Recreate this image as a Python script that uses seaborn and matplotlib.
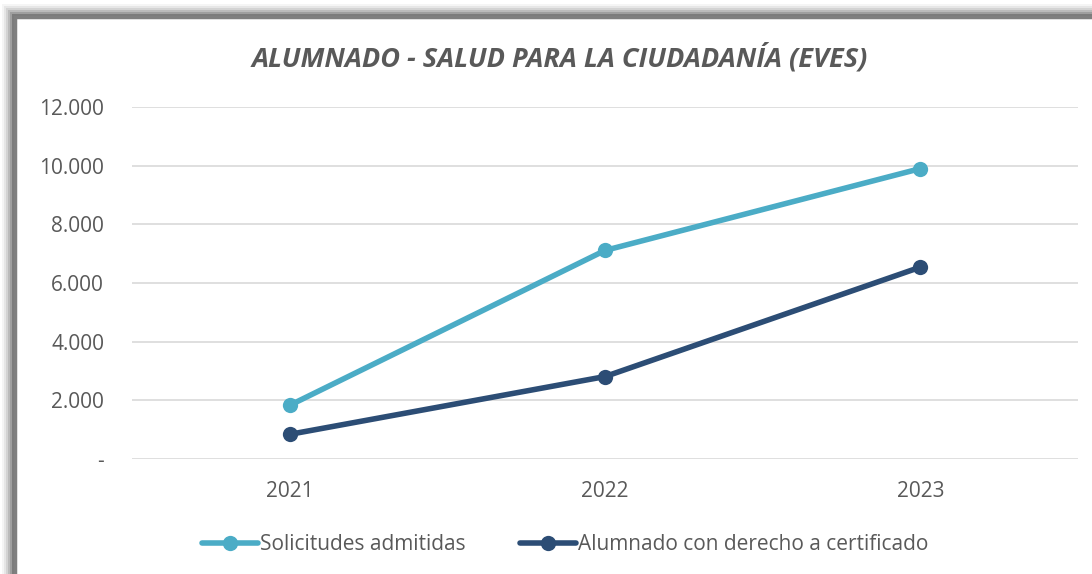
import pandas as pd
import matplotlib.pyplot as plt
import seaborn as sns
from matplotlib.patches import Rectangle
from matplotlib.lines import Line2D
from matplotlib.ticker import FuncFormatter

TITLE = "ALUMNADO - SALUD PARA LA CIUDADANÍA (EVES)"
years = ["2021", "2022", "2023"]
solicitudes = [1830, 7110, 9900]
alumnado = [840, 2810, 6540]
series_names = ["Solicitudes admitidas", "Alumnado con derecho a certificado"]
colors = ["#4BACC6", "#2C4D75"]
yticks = [0, 2000, 4000, 6000, 8000, 10000, 12000]

TEXT = "#595959"

df = pd.DataFrame({
    "year": years * 2,
    "value": solicitudes + alumnado,
    "serie": [series_names[0]] * 3 + [series_names[1]] * 3,
})

sns.set_style("white")
plt.rcParams['font.family'] = ['Open Sans', 'DejaVu Sans']

fig = plt.figure(figsize=(10.92, 5.74), dpi=100)
W, H = 1092, 574

# outer frame with soft shadow
for i, a in enumerate([0.04, 0.06, 0.08, 0.11, 0.15, 0.22]):
    off = 13 - i * 2
    fig.patches.append(Rectangle(((15 - off) / W, 0), 1.2, (H - 17 + off) / H,
                                 transform=fig.transFigure, facecolor="#000000",
                                 alpha=a, edgecolor="none", zorder=0))
fig.patches.append(Rectangle((15 / W, -0.1), 1.2, (H - 17) / H + 0.1,
                             transform=fig.transFigure, facecolor="white",
                             edgecolor="#7f7f7f", linewidth=2.5, zorder=1))

ax = fig.add_axes([132 / W, 1 - 459 / H, (1078 - 132) / W, (459 - 107) / H])
ax.set_zorder(2)
ax.patch.set_alpha(0)

sns.lineplot(data=df, x="year", y="value", hue="serie", palette=colors,
             marker="o", markersize=11, markeredgewidth=0, linewidth=4,
             ax=ax, legend=False, sort=False)

ax.set_xlim(-0.5, 2.5)
ax.set_ylim(0, 12000)
ax.set_yticks(yticks)
ax.yaxis.set_major_formatter(FuncFormatter(
    lambda v, p: "-" if v == 0 else f"{int(v):,}".replace(",", ".")))
ax.grid(axis="y", color="#d9d9d9", linewidth=1.2)
ax.set_axisbelow(True)
for s in ax.spines.values():
    s.set_visible(False)
ax.set_xlabel("")
ax.set_ylabel("")
ax.tick_params(axis="y", length=0, pad=20, labelsize=15, labelcolor=TEXT)
ax.tick_params(axis="x", length=0, pad=16, labelsize=15, labelcolor=TEXT)

fig.text(560 / W, 1 - 58 / H, TITLE, ha="center", va="center", fontsize=19.5,
         fontweight="bold", fontstyle="italic", color=TEXT)

handles = [Line2D([], [], color=c, linewidth=4, marker="o", markersize=11,
                  markeredgewidth=0) for c in colors]
fig.legend(handles, series_names, loc="center", bbox_to_anchor=(565 / W, 1 - 545 / H),
           ncol=2, frameon=False, fontsize=15, labelcolor=TEXT,
           handlelength=2.7, handletextpad=0.1, columnspacing=2.6)

fig.savefig("out.png", dpi=100)
